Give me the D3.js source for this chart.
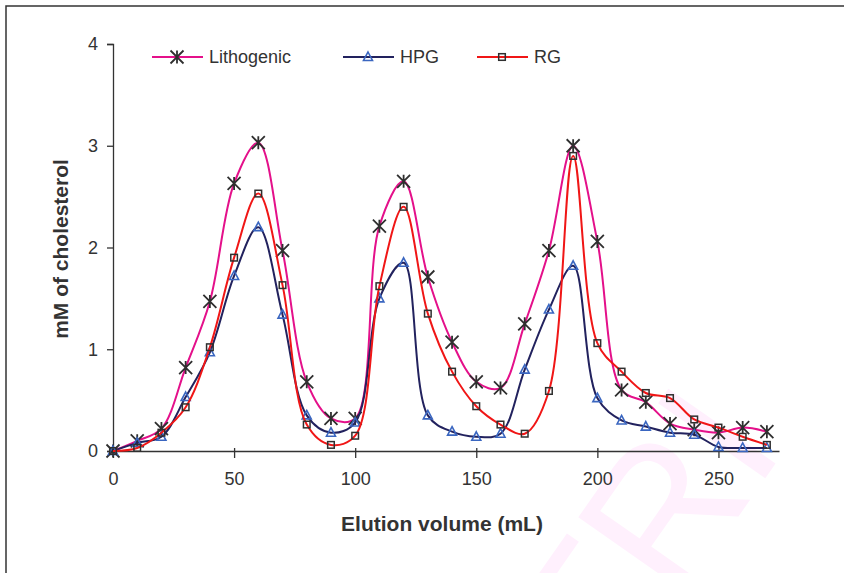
<!DOCTYPE html>
<html>
<head>
<meta charset="utf-8">
<title>Elution profile</title>
<script src="https://d3js.org/d3.v7.min.js"></script>
<style>
  body { margin: 0; background: #fff; }
  svg { display: block; font-family: "Liberation Sans", Arial, sans-serif; }
</style>
</head>
<body>
<script>
// elution volume (mL), one fraction every 10 mL
var volumes = [0, 10, 20, 30, 40, 50, 60, 70, 80, 90, 100, 110, 120, 130, 140,
               150, 160, 170, 180, 190, 200, 210, 220, 230, 240, 250, 260, 270];

// mM of cholesterol per fraction
var lithogenic = [0, 0.1, 0.22, 0.82, 1.47, 2.63, 3.03, 1.97, 0.68, 0.32, 0.32, 2.21, 2.65, 1.71, 1.07,
                  0.68, 0.62, 1.25, 1.97, 3.0, 2.06, 0.6, 0.48, 0.27, 0.21, 0.18, 0.23, 0.19];
var hpg = [0, 0.08, 0.14, 0.53, 0.97, 1.72, 2.2, 1.34, 0.35, 0.18, 0.28, 1.5, 1.85, 0.35, 0.19,
           0.14, 0.17, 0.8, 1.39, 1.82, 0.52, 0.3, 0.24, 0.18, 0.16, 0.04, 0.03, 0.03];
var rg = [0, 0.03, 0.18, 0.43, 1.02, 1.9, 2.53, 1.63, 0.26, 0.06, 0.15, 1.62, 2.4, 1.35, 0.78,
          0.44, 0.26, 0.17, 0.59, 2.9, 1.06, 0.78, 0.57, 0.52, 0.31, 0.23, 0.14, 0.06];

var seriesNames = ["Lithogenic", "HPG", "RG"];
var xTicks = [0, 50, 100, 150, 200, 250];
var yTicks = [0, 1, 2, 3, 4];

var W = 844, H = 573;
var svg = d3.select("body").append("svg").attr("width", W).attr("height", H);

// faint watermark behind everything (clipped by the page edge, as in the original)
svg.append("text")
  .attr("transform", "translate(610,700) rotate(-55)")
  .attr("font-size", 190)
  .attr("fill", "#fff0fd")
  .text("TRI");

// outer frame (top and left edges only are visible)
svg.append("path")
  .attr("d", "M6,573 L6,6 L844,6")
  .attr("fill", "none")
  .attr("stroke", "#333")
  .attr("stroke-width", 1.5);

var x = d3.scaleLinear().domain([0, 275]).range([113, 779]);
var y = d3.scaleLinear().domain([0, 4]).range([451, 44]);

var axisColor = "#333";

// y axis
var yAxis = svg.append("g")
  .attr("transform", "translate(" + x(0) + ",0)")
  .call(d3.axisLeft(y).tickValues(yTicks).tickSize(6).tickPadding(9).tickFormat(d3.format("d")));
yAxis.select(".domain").attr("stroke", axisColor).attr("stroke-width", 1.3);
yAxis.selectAll(".tick line").attr("stroke", axisColor).attr("stroke-width", 1.3);
yAxis.selectAll("text").attr("font-size", 18).attr("fill", axisColor)
  .attr("font-family", "Liberation Sans, Arial, sans-serif");

// x axis
var xAxis = svg.append("g")
  .attr("transform", "translate(0," + y(0) + ")")
  .call(d3.axisBottom(x).tickValues(xTicks).tickSizeInner(7).tickSizeOuter(0).tickPadding(14));
xAxis.select(".domain").attr("stroke", axisColor).attr("stroke-width", 1.3);
xAxis.selectAll(".tick line").attr("stroke", axisColor).attr("stroke-width", 1.3).attr("y1", -3);
xAxis.selectAll("text").attr("font-size", 18).attr("fill", axisColor)
  .attr("font-family", "Liberation Sans, Arial, sans-serif");

// axis titles
svg.append("text")
  .attr("x", 442).attr("y", 531)
  .attr("text-anchor", "middle")
  .attr("font-size", 21).attr("font-weight", "bold").attr("fill", axisColor)
  .text("Elution volume (mL)");

svg.append("text")
  .attr("transform", "translate(68,249) rotate(-90)")
  .attr("text-anchor", "middle")
  .attr("font-size", 21).attr("font-weight", "bold").attr("fill", axisColor)
  .text("mM of cholesterol");

// marker shapes
function star(g, cx, cy) {
  var r = 6.5;
  g.append("path")
    .attr("d", "M" + (cx - r) + "," + (cy - r) + "L" + (cx + r) + "," + (cy + r) +
               "M" + (cx - r) + "," + (cy + r) + "L" + (cx + r) + "," + (cy - r) +
               "M" + cx + "," + (cy - r) + "L" + cx + "," + (cy + r))
    .attr("stroke", "#2f2f2f").attr("stroke-width", 1.8).attr("fill", "none");
}
function tri(g, cx, cy) {
  g.append("path")
    .attr("d", "M" + cx + "," + (cy - 5) + "L" + (cx + 4.5) + "," + (cy + 3.5) + "L" + (cx - 4.5) + "," + (cy + 3.5) + "Z")
    .attr("stroke", "#3a66c0").attr("stroke-width", 1.6).attr("fill", "none");
}
function sq(g, cx, cy) {
  g.append("rect")
    .attr("x", cx - 3.3).attr("y", cy - 3.3).attr("width", 6.6).attr("height", 6.6)
    .attr("stroke", "#2f2f2f").attr("stroke-width", 1.5).attr("fill", "none");
}

var series = [
  { name: seriesNames[0], values: lithogenic, color: "#e4108a", marker: star },
  { name: seriesNames[1], values: hpg, color: "#22225e", marker: tri },
  { name: seriesNames[2], values: rg, color: "#f01616", marker: sq }
];

var line = d3.line()
  .x(function(d) { return x(d[0]); })
  .y(function(d) { return y(d[1]); })
  .curve(d3.curveCatmullRom.alpha(0.5));

series.forEach(function(s) {
  var pts = volumes.map(function(v, i) { return [v, s.values[i]]; });
  var g = svg.append("g");
  g.append("path")
    .attr("d", line(pts))
    .attr("fill", "none")
    .attr("stroke", s.color)
    .attr("stroke-width", 2);
  pts.forEach(function(p) { s.marker(g, x(p[0]), y(p[1])); });
});

// legend
var legendX = [152, 343, 477];
series.forEach(function(s, i) {
  var g = svg.append("g");
  var lx = legendX[i], ly = 57;
  g.append("line")
    .attr("x1", lx).attr("x2", lx + 51).attr("y1", ly).attr("y2", ly)
    .attr("stroke", s.color).attr("stroke-width", 2);
  s.marker(g, lx + 25, ly);
  g.append("text")
    .attr("x", lx + 57).attr("y", ly + 6)
    .attr("font-size", 18).attr("fill", axisColor)
    .text(s.name);
});
</script>
</body>
</html>
